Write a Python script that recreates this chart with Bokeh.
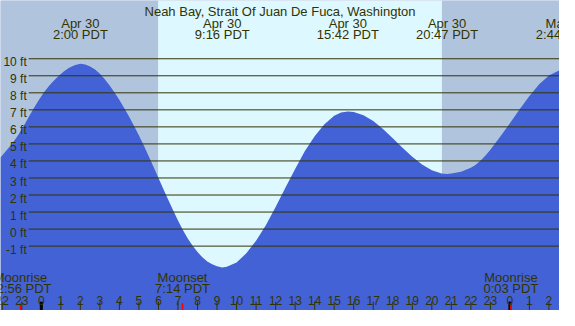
from bokeh.plotting import figure
from bokeh.models import Range1d
from bokeh.core.properties import value
from bokeh.embed import file_html
from bokeh.resources import INLINE

# ---------------- data ----------------
title_text = "Neah Bay, Strait Of Juan De Fuca, Washington"

# tide height (ft), hours from midnight Apr 30 (PDT)
tide_hours = [-2.091, -1.8, -1.509, -1.2, -0.931, -0.68, -0.433, -0.16, 0.115, 0.4, 0.65,
              0.896, 1.15, 1.4, 1.7, 2.0,
              2.25, 2.5, 2.75, 3.0, 3.25, 3.5, 3.75, 4.0, 4.25, 4.5, 4.75, 5.0, 5.25,
              5.5, 5.75, 6.0, 6.25, 6.5, 6.75, 7.0, 7.25, 7.5, 7.75, 8.0, 8.25, 8.5,
              8.75, 9.0, 9.267,
              9.5, 10.0, 10.5, 11.0, 11.5, 12.0, 12.5, 13.0, 13.5, 14.0, 14.5, 15.0,
              15.35, 15.7,
              16.0, 16.5, 17.0, 17.5, 18.0, 18.5, 19.0, 19.5, 20.0, 20.5, 20.783,
              21.0, 21.5, 22.0, 22.25, 22.5, 22.75, 23.0, 23.5, 24.0, 24.5, 25.0, 25.5,
              26.0, 26.54]
tide_ft = [4.2, 4.6, 5.0, 5.5, 6.0, 6.5, 7.0, 7.52, 8.0, 8.42, 8.73,
           9.0, 9.25, 9.45, 9.62, 9.7,
           9.66, 9.55, 9.37, 9.12, 8.8, 8.43, 8.02, 7.58, 7.1, 6.6, 6.05, 5.5, 4.9,
           4.28, 3.65, 3.0, 2.35, 1.72, 1.1, 0.5, -0.05, -0.55, -0.98, -1.35, -1.66, -1.9,
           -2.07, -2.18, -2.25,
           -2.21, -1.96, -1.42, -0.68, 0.22, 1.3, 2.42, 3.53, 4.58, 5.45, 6.15, 6.65,
           6.84, 6.9,
           6.87, 6.68, 6.34, 5.88, 5.34, 4.78, 4.24, 3.79, 3.45, 3.27, 3.24,
           3.27, 3.37, 3.6, 3.78, 4.02, 4.32, 4.66, 5.42, 6.22, 7.03, 7.82, 8.5,
           9.02, 9.32]

ext_hours = [2.0, 9.267, 15.7, 20.783, 26.733]
ext_dates = ["Apr 30", "Apr 30", "Apr 30", "Apr 30", "May 1"]
ext_times = ["2:00 PDT", "9:16 PDT", "15:42 PDT", "20:47 PDT", "2:44 PDT"]

moon_hours = [-1.067, 7.233, 24.05]
moon_events = ["Moonrise", "Moonset", "Moonrise"]
moon_times = ["22:56 PDT", "7:14 PDT", "0:03 PDT"]

sunrise_hour = 5.98
sunset_hour = 20.52

ft_ticks = list(range(-1, 11))
ft_labels = [f"{v} ft" for v in ft_ticks]
hour_ticks = list(range(-2, 27))
hour_labels = [str(h % 24) for h in hour_ticks]
midnight_hours = [0, 24]

# ---------------- style ----------------
X0, X1 = -2.091, 26.54
Y0, Y1 = -4.78, 13.42
NIGHT = "#B0C4DE"
DAY = "#DDF8FF"
WATER = "#4262D6"
INK = "#333300"
FONT = value("Liberation Sans")

p = figure(width=559, height=310, x_range=Range1d(X0, X1), y_range=Range1d(Y0, Y1),
           output_backend="svg", toolbar_location=None, min_border=0,
           x_axis_type=None, y_axis_type=None)
p.outline_line_color = None
p.grid.visible = False
p.background_fill_color = NIGHT
p.border_fill_color = "white"

# sky: night / day / night
p.quad(left=[X0, sunrise_hour, sunset_hour], right=[sunrise_hour, sunset_hour, X1],
       bottom=Y0, top=Y1, fill_color=[NIGHT, DAY, NIGHT], line_color=None)

# water
p.varea(x=tide_hours, y1=[Y0] * len(tide_hours), y2=tide_ft, fill_color=WATER)

# horizontal grid lines
p.segment(x0=[-0.647] * len(ft_ticks), x1=[X1] * len(ft_ticks), y0=ft_ticks, y1=ft_ticks,
          line_color=INK, line_width=1)

# ft labels
p.text(x=[-0.747] * len(ft_ticks), y=[v - 0.207 for v in ft_ticks], text=ft_labels,
       text_font=FONT, text_font_size="12px", text_color=INK,
       text_align="right", text_baseline="alphabetic")

# hour ticks
p.segment(x0=hour_ticks, x1=hour_ticks, y0=[-4.26] * len(hour_ticks), y1=[Y0] * len(hour_ticks),
          line_color=INK, line_width=1)
p.segment(x0=midnight_hours, x1=midnight_hours, y0=[-4.26] * 2, y1=[Y0] * 2,
          line_color="black", line_width=3)
p.segment(x0=moon_hours, x1=moon_hours, y0=[-4.35] * len(moon_hours), y1=[Y0] * len(moon_hours),
          line_color="red", line_width=1.6)

# hour labels
p.text(x=hour_ticks, y=[-4.20] * len(hour_ticks), text=hour_labels,
       text_font=FONT, text_font_size="12px", text_color=INK,
       text_align="center", text_baseline="alphabetic")

# moon labels
p.text(x=moon_hours, y=[-2.84] * len(moon_hours), text=moon_events,
       text_font=FONT, text_font_size="13px", text_color=INK,
       text_align="center", text_baseline="alphabetic")
p.text(x=moon_hours, y=[-3.51] * len(moon_hours), text=moon_times,
       text_font=FONT, text_font_size="13px", text_color=INK,
       text_align="center", text_baseline="alphabetic")

# high / low labels
p.text(x=ext_hours, y=[12.08] * len(ext_hours), text=ext_dates,
       text_font=FONT, text_font_size="13px", text_color=INK,
       text_align="center", text_baseline="alphabetic")
p.text(x=ext_hours, y=[11.41] * len(ext_hours), text=ext_times,
       text_font=FONT, text_font_size="13px", text_color=INK,
       text_align="center", text_baseline="alphabetic")

# title
p.text(x=[(X0 + X1) / 2], y=[12.75], text=[title_text],
       text_font=FONT, text_font_size="13px", text_color=INK,
       text_align="center", text_baseline="alphabetic")

open("out.html", "w").write(file_html(p, INLINE))
